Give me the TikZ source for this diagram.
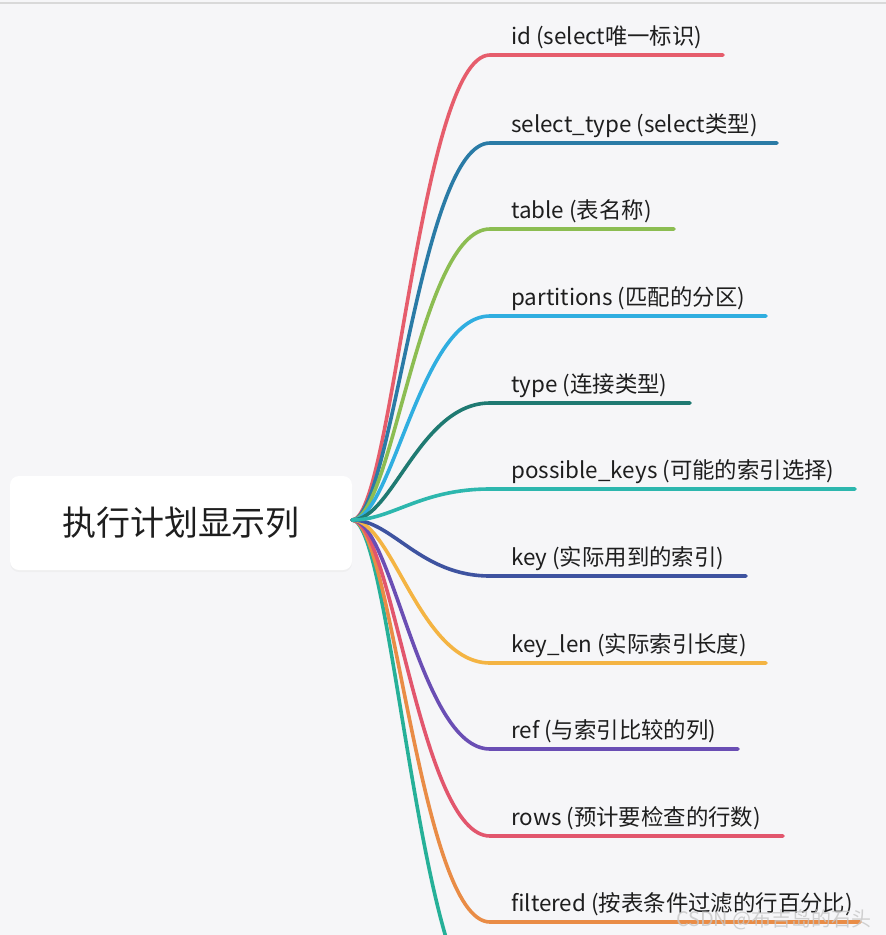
\documentclass[tikz,border=0pt]{standalone}
\usepackage{fontspec}
\setmainfont{Noto Sans CJK SC}
\usetikzlibrary{shadows}
\definecolor{bgc}{HTML}{F6F6F8}
\definecolor{topline}{HTML}{D9D9D9}
\definecolor{txt}{HTML}{1E1E1E}
\definecolor{c1}{HTML}{E65D6C}
\definecolor{c2}{HTML}{2A7BA6}
\definecolor{c3}{HTML}{8CBD52}
\definecolor{c4}{HTML}{30AEE0}
\definecolor{c5}{HTML}{1F7A72}
\definecolor{c6}{HTML}{2DB7AE}
\definecolor{c7}{HTML}{3E53A0}
\definecolor{c8}{HTML}{F4B443}
\definecolor{c9}{HTML}{6A4EB4}
\definecolor{c10}{HTML}{E2566D}
\definecolor{c11}{HTML}{E98C46}
\definecolor{c12}{HTML}{26B098}
\tikzset{
  branch/.style={line width=3.6pt, line cap=round},
  lab/.style={anchor=base west, inner sep=0pt, text=txt, font=\fontsize{22.4}{25}\selectfont},
  rootbox/.style={fill=white, rounded corners=9pt, minimum width=342pt, minimum height=94pt,
    drop shadow={opacity=0.06, shadow xshift=0pt, shadow yshift=-2pt},
    font=\fontsize{34}{38}\selectfont, text=txt},
}
\begin{document}
\begin{tikzpicture}[x=1pt,y=-1pt]
\useasboundingbox (0,0) rectangle (886,935);
\fill[bgc] (0,0) rectangle (886,935);
\draw[topline, line width=1.5pt] (0,3) -- (886,3);
\clip (0,0) rectangle (886,935);

\node[rootbox] (root) at (181,523) {执行计划显示列};
\coordinate (r) at ([yshift=3pt]root.east);

% branch start points (curve ends) and line ends
\coordinate (s1) at (490,55);   \coordinate (e1) at (723,55);
\coordinate (s2) at (490,143);  \coordinate (e2) at (777,143);
\coordinate (s3) at (490,229);  \coordinate (e3) at (674,229);
\coordinate (s4) at (490,316);  \coordinate (e4) at (766,316);
\coordinate (s5) at (490,403);  \coordinate (e5) at (690,403);
\coordinate (s6) at (490,489);  \coordinate (e6) at (855,489);
\coordinate (s7) at (490,576);  \coordinate (e7) at (746,576);
\coordinate (s8) at (490,663);  \coordinate (e8) at (766,663);
\coordinate (s9) at (490,749);  \coordinate (e9) at (738,749);
\coordinate (s10) at (490,836); \coordinate (e10) at (783,836);
\coordinate (s11) at (490,922); \coordinate (e11) at (860,922);
\coordinate (s12) at (490,1009); \coordinate (e12) at (760,1009);

\draw[branch, c12] (r) .. controls +(40,0) and +(-70,0) .. (s12) -- (e12);
\draw[branch, c11] (r) .. controls +(40,0) and +(-70,0) .. (s11) -- (e11);
\draw[branch, c10] (r) .. controls +(40,0) and +(-70,0) .. (s10) -- (e10);
\draw[branch, c9] (r) .. controls +(40,0) and +(-70,0) .. (s9) -- (e9);
\draw[branch, c8] (r) .. controls +(40,0) and +(-70,0) .. (s8) -- (e8);
\draw[branch, c7] (r) .. controls +(40,0) and +(-70,0) .. (s7) -- (e7);
\draw[branch, c1] (r) .. controls +(40,0) and +(-70,0) .. (s1) -- (e1);
\draw[branch, c2] (r) .. controls +(40,0) and +(-70,0) .. (s2) -- (e2);
\draw[branch, c3] (r) .. controls +(40,0) and +(-70,0) .. (s3) -- (e3);
\draw[branch, c4] (r) .. controls +(40,0) and +(-70,0) .. (s4) -- (e4);
\draw[branch, c5] (r) .. controls +(40,0) and +(-70,0) .. (s5) -- (e5);
\draw[branch, c6] (r) .. controls +(40,0) and +(-70,0) .. (s6) -- (e6);

\node[lab] (l1) at (511,44) {id (select唯一标识)};
\node[lab] (l2) at (511,132) {select\_type (select类型)};
\node[lab] (l3) at (511,218) {table (表名称)};
\node[lab] (l4) at (511,305) {partitions (匹配的分区)};
\node[lab] (l5) at (511,392) {type (连接类型)};
\node[lab] (l6) at (511,478) {possible\_keys (可能的索引选择)};
\node[lab] (l7) at (511,565) {key (实际用到的索引)};
\node[lab] (l8) at (511,652) {key\_len (实际索引长度)};
\node[lab] (l9) at (511,738) {ref (与索引比较的列)};
\node[lab] (l10) at (511,825) {rows (预计要检查的行数)};
\node[lab] (l11) at (511,911) {filtered (按表条件过滤的行百分比)};

\node[anchor=base east, inner sep=0pt, text=gray!45, opacity=0.8,
  font=\fontsize{20}{22}\selectfont] (wm) at (872,926) {CSDN @布吉岛的石头};
\end{tikzpicture}
\end{document}
